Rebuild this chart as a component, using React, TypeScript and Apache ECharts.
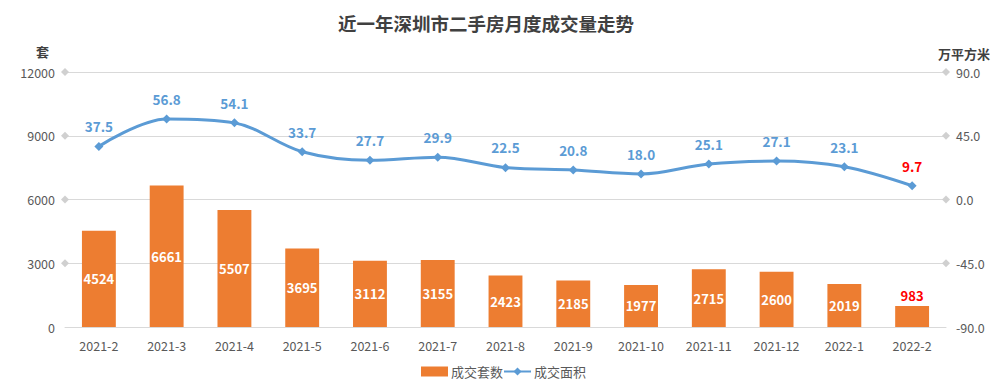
import React, { useEffect, useRef } from "react";
import * as echarts from "echarts";

const categories = ["2021-2", "2021-3", "2021-4", "2021-5", "2021-6", "2021-7", "2021-8", "2021-9", "2021-10", "2021-11", "2021-12", "2022-1", "2022-2"];
const units = [4524, 6661, 5507, 3695, 3112, 3155, 2423, 2185, 1977, 2715, 2600, 2019, 983];
const area = [37.5, 56.8, 54.1, 33.7, 27.7, 29.9, 22.5, 20.8, 18.0, 25.1, 27.1, 23.1, 9.7];
const leftTicks = [3000, 6000, 9000, 12000];
const rightTicks = [-45, 0, 45, 90];

const FONT = "'Microsoft YaHei', 'Noto Sans CJK SC', sans-serif";
const ORANGE = "#ED7D31";
const BLUE = "#5B9BD5";
const AXIS_TEXT = "#595959";

export default function App() {
  const ref = useRef<HTMLDivElement>(null);
  useEffect(() => {
    if (!ref.current) return;
    const chart = echarts.init(ref.current, undefined, { renderer: "svg" });
    const last = units.length - 1;
    chart.setOption({
      animation: false,
      textStyle: { fontFamily: FONT },
      title: {
        text: "近一年深圳市二手房月度成交量走势",
        left: 333,
        top: 9,
        textStyle: { fontSize: 18.5, fontWeight: "bold", color: "#404040", fontFamily: FONT },
      },
      grid: { left: 65, right: 61, top: 72, bottom: 59 },
      legend: {
        bottom: 3,
        left: "center",
        itemGap: 0,
        itemWidth: 27,
        itemHeight: 10,
        textStyle: { color: AXIS_TEXT, fontSize: 13, fontFamily: FONT, padding: [0, 0, 0, -2] },
        data: [
          { name: "成交套数", icon: "rect" },
          { name: "成交面积" },
        ],
      },
      xAxis: {
        type: "category",
        data: categories,
        axisLine: { lineStyle: { color: "#D9D9D9", width: 1 } },
        axisTick: { show: false },
        axisLabel: { color: AXIS_TEXT, fontSize: 12.5, margin: 12, fontFamily: FONT },
      },
      yAxis: [
        {
          type: "value",
          min: 0,
          max: 12000,
          interval: 3000,
          name: "套",
          nameGap: 14,
          nameTextStyle: { color: "#404040", fontSize: 13, fontWeight: "bold", align: "right", padding: [0, 16, 0, 0] },
          axisLine: { show: false },
          axisTick: { show: false },
          axisLabel: { color: AXIS_TEXT, fontSize: 12.5, margin: 10, formatter: (v: number) => String(v) },
          splitLine: { lineStyle: { color: "#D9D9D9", width: 1 } },
        },
        {
          type: "value",
          min: -90,
          max: 90,
          interval: 45,
          name: "万平方米",
          nameGap: 12,
          nameTextStyle: { color: "#404040", fontSize: 13, fontWeight: "bold", align: "left", padding: [0, 0, 0, -8] },
          axisLine: { show: false },
          axisTick: { show: false },
          splitLine: { show: false },
          axisLabel: { color: AXIS_TEXT, fontSize: 12.5, margin: 10, formatter: (v: number) => v.toFixed(1) },
        },
      ],
      series: [
        {
          name: "成交套数",
          type: "bar",
          yAxisIndex: 0,
          barWidth: "50%",
          itemStyle: { color: ORANGE },
          data: units.map((v, i) =>
            i === last
              ? { value: v, label: { position: "top", color: "#FF0000", distance: 4 } }
              : v
          ),
          label: {
            show: true,
            position: "inside",
            color: "#FFFFFF",
            fontWeight: "bold",
            fontSize: 13,
            fontFamily: FONT,
          },
        },
        {
          name: "成交面积",
          type: "line",
          yAxisIndex: 1,
          smooth: 0.35,
          symbol: "diamond",
          symbolSize: 9,
          lineStyle: { color: BLUE, width: 3 },
          itemStyle: { color: BLUE },
          data: area.map((v, i) =>
            i === last ? { value: v, label: { color: "#FF0000" } } : v
          ),
          label: {
            show: true,
            position: "top",
            distance: 9,
            color: BLUE,
            fontWeight: "bold",
            fontSize: 13.5,
            fontFamily: FONT,
            formatter: (p: any) => Number(p.value).toFixed(1),
          },
        },
      ],
    });

    const grid: any = (chart as any).getModel().getComponent("grid", 0).coordinateSystem.getRect();
    const diamond = (x: number, y: number) => ({
      type: "polygon",
      shape: { points: [[x - 4, y], [x, y - 4], [x + 4, y], [x, y + 4]] },
      style: { fill: "#D0D0D0" },
      silent: true,
    });
    const elements: any[] = [];
    leftTicks.forEach((t) => {
      const y = chart.convertToPixel({ yAxisIndex: 0 }, t) as number;
      elements.push(diamond(grid.x, y));
    });
    rightTicks.forEach((t) => {
      const y = chart.convertToPixel({ yAxisIndex: 1 }, t) as number;
      elements.push(diamond(grid.x + grid.width, y));
    });
    chart.setOption({ graphic: elements });

    return () => chart.dispose();
  }, []);
  return (
    <div
      ref={ref}
      style={{ position: "fixed", left: 0, top: 0, width: 1007, height: 386, background: "#fff" }}
    />
  );
}
